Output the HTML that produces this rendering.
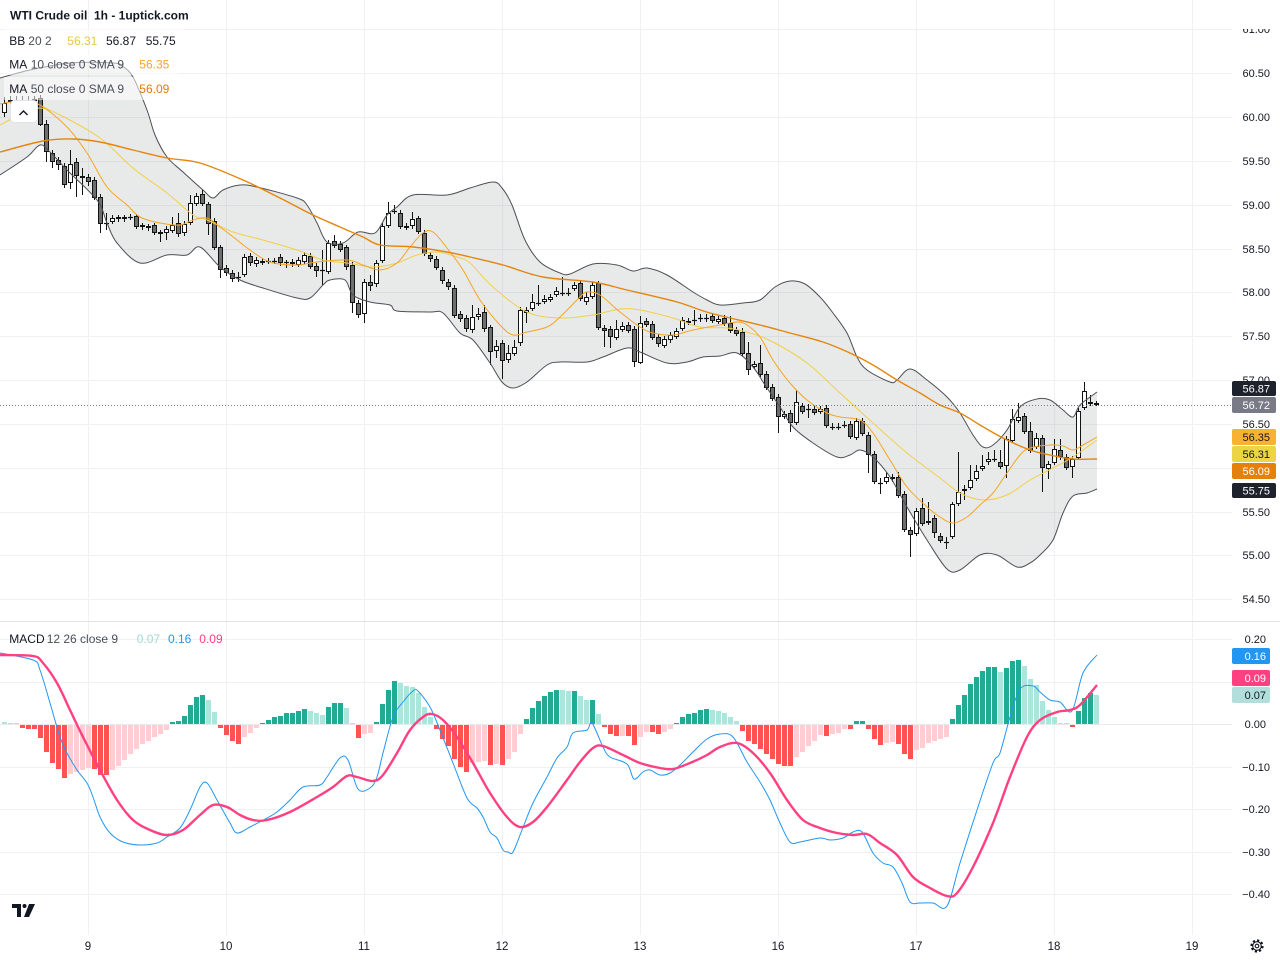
<!DOCTYPE html>
<html><head><meta charset="utf-8">
<style>
html,body{margin:0;padding:0;background:#fff;}
svg{display:block;font-family:"Liberation Sans",sans-serif;}
</style></head>
<body>
<svg id="s" width="1280" height="960" viewBox="0 0 1280 960" xmlns="http://www.w3.org/2000/svg">
<defs>
<clipPath id="cm"><rect x="0" y="0" width="1232" height="621"/></clipPath>
<clipPath id="cd"><rect x="0" y="622" width="1232" height="313"/></clipPath>
<clipPath id="ca"><rect x="1232" y="29" width="48" height="592"/></clipPath>
</defs>
<g id="grid" stroke="#eff1f4" stroke-width="1">
<line x1="0" x2="1232" y1="29.5" y2="29.5"/>
<line x1="0" x2="1232" y1="73.5" y2="73.5"/>
<line x1="0" x2="1232" y1="117.5" y2="117.5"/>
<line x1="0" x2="1232" y1="161.5" y2="161.5"/>
<line x1="0" x2="1232" y1="205.5" y2="205.5"/>
<line x1="0" x2="1232" y1="249.5" y2="249.5"/>
<line x1="0" x2="1232" y1="292.5" y2="292.5"/>
<line x1="0" x2="1232" y1="336.5" y2="336.5"/>
<line x1="0" x2="1232" y1="380.5" y2="380.5"/>
<line x1="0" x2="1232" y1="424.5" y2="424.5"/>
<line x1="0" x2="1232" y1="468.5" y2="468.5"/>
<line x1="0" x2="1232" y1="512.5" y2="512.5"/>
<line x1="0" x2="1232" y1="555.5" y2="555.5"/>
<line x1="0" x2="1232" y1="599.5" y2="599.5"/>
<line x1="0" x2="1232" y1="639.5" y2="639.5"/>
<line x1="0" x2="1232" y1="682.5" y2="682.5"/>
<line x1="0" x2="1232" y1="724.5" y2="724.5"/>
<line x1="0" x2="1232" y1="767.5" y2="767.5"/>
<line x1="0" x2="1232" y1="809.5" y2="809.5"/>
<line x1="0" x2="1232" y1="852.5" y2="852.5"/>
<line x1="0" x2="1232" y1="894.5" y2="894.5"/>
<line y1="0" y2="935" x1="88.5" x2="88.5"/>
<line y1="0" y2="935" x1="226.5" x2="226.5"/>
<line y1="0" y2="935" x1="364.5" x2="364.5"/>
<line y1="0" y2="935" x1="502.5" x2="502.5"/>
<line y1="0" y2="935" x1="640.5" x2="640.5"/>
<line y1="0" y2="935" x1="778.5" x2="778.5"/>
<line y1="0" y2="935" x1="916.5" x2="916.5"/>
<line y1="0" y2="935" x1="1054.5" x2="1054.5"/>
<line y1="0" y2="935" x1="1192.5" x2="1192.5"/>
</g>
<line x1="0" x2="1280" y1="621.5" y2="621.5" stroke="#dfe2e8" stroke-width="1"/>
<g clip-path="url(#cm)">
  <path id="bandfill" fill="rgba(125,132,132,0.18)" stroke="none"/>
  <g id="candles"></g>
  <path id="upper" fill="none" stroke="#4d4f55" stroke-width="1"/>
  <path id="lower" fill="none" stroke="#4d4f55" stroke-width="1"/>
  <path id="basis" fill="none" stroke="#f0d04a" stroke-width="1"/>
  <path id="ma10" fill="none" stroke="#f5a623" stroke-width="1"/>
  <path id="ma50" fill="none" stroke="#e5850c" stroke-width="1.4"/>
  <line x1="0" x2="1232" y1="405.5" y2="405.5" stroke="#787b86" stroke-width="1" stroke-dasharray="1 2"/>
</g>
<g clip-path="url(#cd)">
  <line x1="0" x2="1232" y1="724.5" y2="724.5" stroke="#e8eaee" stroke-width="1"/>
  <g id="hist"></g>
  <path id="macd" fill="none" stroke="#2196f3" stroke-width="1"/>
  <path id="sig" fill="none" stroke="#ff4081" stroke-width="2.4" stroke-linejoin="round"/>
</g>

<!-- legend -->
<rect x="4" y="29" width="180" height="22" fill="#fff" fill-opacity="0.5"/>
<rect x="4" y="53" width="174" height="22" fill="#fff" fill-opacity="0.5"/>
<rect x="4" y="77" width="174" height="23" fill="#fff" fill-opacity="0.55"/>
<text x="10" y="19.5" font-size="12" font-weight="bold" fill="#131722" xml:space="preserve">WTI Crude oil  1h - 1uptick.com</text>
<g font-size="12">
<text x="9.3" y="45" fill="#131722">BB</text>
<text x="28.3" y="45" fill="#4a4e59">20 2</text>
<text x="67.3" y="45" fill="#e9c743">56.31</text>
<text x="106" y="45" fill="#131722">56.87</text>
<text x="145.7" y="45" fill="#131722">55.75</text>
<text x="9.3" y="68.5" fill="#131722">MA</text>
<text x="30.7" y="68.5" fill="#4a4e59">10 close 0 SMA 9</text>
<text x="139.3" y="68.5" fill="#f5a623">56.35</text>
<text x="9.3" y="93" fill="#131722">MA</text>
<text x="30.7" y="93" fill="#4a4e59">50 close 0 SMA 9</text>
<text x="139.3" y="93" fill="#e07b00">56.09</text>
<text x="9.3" y="643" fill="#131722">MACD</text>
<text x="46.7" y="643" fill="#4a4e59">12 26 close 9</text>
<text x="136.7" y="643" fill="#a3d9d1">0.07</text>
<text x="168" y="643" fill="#2196f3">0.16</text>
<text x="199.3" y="643" fill="#ff4081">0.09</text>
</g>
<rect x="10.5" y="100.5" width="27" height="22" rx="4" fill="#fff" stroke="#e0e3eb"/>
<polyline points="19.5,115 23.5,111 27.5,115" fill="none" stroke="#131722" stroke-width="1.4"/>

<!-- price axis -->
<g font-size="11" fill="#131722" text-anchor="end" clip-path="url(#ca)">
<text x="1270" y="33">61.00</text>
<text x="1270" y="77">60.50</text>
<text x="1270" y="121">60.00</text>
<text x="1270" y="165">59.50</text>
<text x="1270" y="209">59.00</text>
<text x="1270" y="253">58.50</text>
<text x="1270" y="296">58.00</text>
<text x="1270" y="340">57.50</text>
<text x="1270" y="384">57.00</text>
<text x="1270" y="428">56.50</text>
<text x="1270" y="472">56.00</text>
<text x="1270" y="516">55.50</text>
<text x="1270" y="559">55.00</text>
<text x="1270" y="603">54.50</text>
</g>
<g font-size="11" text-anchor="end">
<rect x="1232" y="381" width="44" height="15" rx="2" fill="#1e222d"/>
<text x="1270" y="392.5" fill="#fff">56.87</text>
<rect x="1232" y="397" width="44" height="16" rx="2" fill="#787b86"/>
<text x="1270" y="409" fill="#fff">56.72</text>
<rect x="1232" y="429" width="44" height="16" rx="2" fill="#f8b232"/>
<text x="1270" y="441" fill="#131722">56.35</text>
<rect x="1232" y="446" width="44" height="16" rx="2" fill="#ecd545"/>
<text x="1270" y="458" fill="#131722">56.31</text>
<rect x="1232" y="463" width="44" height="16" rx="2" fill="#e5810a"/>
<text x="1270" y="475" fill="#fff">56.09</text>
<rect x="1232" y="483" width="44" height="15" rx="2" fill="#1e222d"/>
<text x="1270" y="494.5" fill="#fff">55.75</text>
</g>
<!-- macd axis -->
<g font-size="11" fill="#131722" text-anchor="end">
<text x="1266" y="643">0.20</text>
<text x="1266" y="686">0.10</text>
<text x="1266" y="728">0.00</text>
<text x="1270" y="771">−0.10</text>
<text x="1270" y="813">−0.20</text>
<text x="1270" y="856">−0.30</text>
<text x="1270" y="898">−0.40</text>
<rect x="1232" y="648" width="38" height="16" rx="2" fill="#2196f3"/>
<text x="1266" y="660" fill="#fff">0.16</text>
<rect x="1232" y="670" width="38" height="16" rx="2" fill="#ff4081"/>
<text x="1266" y="682" fill="#fff">0.09</text>
<rect x="1232" y="687" width="38" height="16" rx="2" fill="#b2dfdb"/>
<text x="1266" y="699" fill="#131722">0.07</text>
</g>
<!-- time axis -->
<g font-size="11.5" fill="#131722" text-anchor="middle">
<text x="88" y="950">9</text>
<text x="226" y="950">10</text>
<text x="364" y="950">11</text>
<text x="502" y="950">12</text>
<text x="640" y="950">13</text>
<text x="778" y="950">16</text>
<text x="916" y="950">17</text>
<text x="1054" y="950">18</text>
<text x="1192" y="950">19</text>
</g>
<!-- logo -->
<g fill="#131722">
<path d="M12 904 h9 v13 h-4 v-9 h-5 z"/>
<circle cx="24.5" cy="906" r="2"/>
<path d="M29 904 h6 l-6 13 h-5 z"/>
</g>
<!-- gear -->
<g fill="none" stroke="#131722">
<circle cx="1257" cy="946" r="5.5" stroke-width="2.2" stroke-dasharray="2.2 2.1"/>
<circle cx="1257" cy="946" r="4.3" stroke-width="1.1"/>
<circle cx="1257" cy="946" r="1.8" stroke-width="1.1"/>
</g>
</svg>
<script>
(function(){
var NS="http://www.w3.org/2000/svg";
function el(t,a,p){var e=document.createElementNS(NS,t);for(var k in a)e.setAttribute(k,a[k]);p.appendChild(e);return e;}
function pts(a){var r=[];for(var i=0;i<a.length;i+=2)r.push([a[i],a[i+1]]);return r;}
function seg(P){var d="";for(var i=0;i<P.length-1;i++){var p0=P[i-1]||P[i],p1=P[i],p2=P[i+1],p3=P[i+2]||p2;
var c1x=p1[0]+(p2[0]-p0[0])/6,c1y=p1[1]+(p2[1]-p0[1])/6,c2x=p2[0]-(p3[0]-p1[0])/6,c2y=p2[1]-(p3[1]-p1[1])/6;
d+=" C"+c1x.toFixed(1)+","+c1y.toFixed(1)+" "+c2x.toFixed(1)+","+c2y.toFixed(1)+" "+p2[0]+","+p2[1];}return d;}
function smooth(P){return "M"+P[0][0]+","+P[0][1]+seg(P);}
var U=pts([0,78,30,70,70,63,113,63,122,66,133,77,147,110,155,135,167,157,183,172,203,190,213,198,223,190,240,185,257,187,297,198,307,205,317,223,327,242,343,243,358,232,375,233,387,215,397,207,413,195,447,195,470,188,493,182,502,188,512,205,525,240,540,262,560,273,570,274,593,264,617,265,633,271,647,268,667,275,693,292,707,300,720,305,743,303,760,300,775,287,790,281,805,284,820,297,833,313,847,333,857,357,867,370,890,382,897,380,910,369,927,380,947,397,960,413,973,435,983,447,993,445,1007,430,1020,407,1037,399,1050,400,1063,410,1073,417,1080,405,1097,392]);
var L=pts([0,175,27,157,40,145,50,152,67,170,97,200,107,223,117,243,140,263,167,255,187,255,200,247,220,267,240,280,263,288,297,298,310,298,323,285,330,280,345,280,353,295,370,302,390,305,397,311,430,312,443,313,460,333,473,340,490,363,502,382,513,388,527,382,547,365,560,362,587,362,603,357,627,348,640,352,667,363,687,362,703,357,720,356,737,353,753,367,765,385,780,407,793,427,813,443,837,457,850,455,860,450,873,457,890,477,907,507,927,540,947,569,960,570,980,555,997,555,1017,567,1030,563,1040,555,1053,540,1063,513,1073,496,1087,493,1097,489]);
var B=pts([0,125,20,115,40,108,60,115,100,138,133,168,167,193,193,215,207,220,233,232,263,240,297,250,323,260,347,263,373,267,397,263,417,255,437,252,457,257,470,263,493,287,527,312,560,318,593,315,620,309,640,310,673,318,700,327,727,328,750,333,773,342,807,363,840,393,873,423,907,453,940,478,960,493,983,500,1007,495,1030,480,1053,468,1073,457,1097,440]);
var M10=pts([0,104,20,101,40,105,67,127,87,153,107,187,127,205,140,217,160,223,180,225,193,220,207,218,220,227,232,236,250,250,270,262,297,265,317,262,347,260,363,265,380,270,397,263,410,247,423,233,433,232,447,248,463,270,480,300,500,325,513,335,527,332,547,327,560,317,580,297,587,292,600,295,620,312,640,327,653,333,673,335,693,330,720,325,737,322,747,325,760,337,773,360,790,383,807,400,827,413,840,417,860,420,873,433,890,460,907,487,927,507,940,517,953,523,967,517,980,505,993,493,1007,473,1020,455,1030,448,1050,445,1063,446,1073,450,1083,445,1097,437]);
var M50=pts([0,152,43,141,73,139,100,142,133,150,167,158,200,163,243,180,280,198,313,215,340,227,363,237,380,245,413,247,447,252,470,257,503,265,543,277,593,282,627,290,677,302,710,313,760,325,790,333,823,342,850,353,873,365,897,380,920,393,940,405,960,413,980,425,1003,438,1030,450,1050,455,1073,459,1097,459]);
var MB=pts([0,653,33,660,40,670,50,703,60,737,67,753,77,770,87,783,93,797,100,817,110,833,123,842,140,845,157,843,167,837,180,828,190,810,200,787,207,783,217,800,230,823,237,833,250,827,267,818,277,812,290,800,303,787,320,785,327,777,340,758,348,760,358,789,370,788,377,777,383,753,393,717,403,702,413,691,418,691,430,707,440,730,453,763,467,798,477,808,483,817,490,832,497,838,503,850,508,852,513,852,522,830,533,803,547,777,557,758,567,747,573,733,587,730,592,723,603,747,610,757,627,764,634,779,643,772,650,770,660,775,670,773,680,765,693,752,707,739,720,734,733,737,747,762,760,782,770,800,780,823,790,842,800,842,820,838,830,840,843,838,853,832,862,832,873,853,883,863,893,867,902,883,910,902,920,903,933,903,947,906,960,863,977,810,993,763,1000,753,1010,717,1020,689,1033,686,1040,692,1050,700,1060,702,1072,711,1083,673,1097,655]);
var SG=pts([0,655,33,656,43,663,57,683,70,710,83,737,100,770,117,800,133,820,150,830,167,835,183,830,200,815,213,805,227,807,240,815,253,820,267,820,290,812,317,797,333,787,347,776,357,777,373,781,383,775,397,753,410,730,423,717,432,714,443,720,457,737,473,763,490,793,507,817,520,827,533,822,547,807,567,780,580,762,593,748,603,746,623,755,640,763,660,768,673,769,690,763,707,755,720,747,737,743,753,753,770,773,787,800,803,820,820,828,837,833,853,835,867,834,880,843,897,855,913,877,930,888,947,896,957,893,973,867,993,823,1010,777,1027,737,1040,720,1057,712,1070,710,1080,705,1097,685]);
document.getElementById("upper").setAttribute("d",smooth(U));
document.getElementById("lower").setAttribute("d",smooth(L));
var LR=L.slice().reverse();
document.getElementById("bandfill").setAttribute("d",smooth(U)+" L"+LR[0][0]+","+LR[0][1]+seg(LR)+" Z");
document.getElementById("basis").setAttribute("d",smooth(B));
document.getElementById("ma10").setAttribute("d",smooth(M10));
document.getElementById("ma50").setAttribute("d",smooth(M50));
document.getElementById("macd").setAttribute("d",smooth(MB));
document.getElementById("sig").setAttribute("d",smooth(SG));

var C=[[113,103,97,117],[101,100,96,104],[100,101,96,104],[101,100,96,103],[100,101,96,104],[101,99,96,103],
[98,125,95,126],[124,152,120,162],[153,162,150,168],[160,165,157,170],[166,185,163,188],[183,164,150,189],[162,176,158,197],[176,178,168,195],[177,182,174,186],[180,198,177,200],[197,224,194,233],[223,223,213,230],[222,218,215,224],[219,217,215,222],[217,219,215,222],[217,217,214,220],[216,227,214,229],[225,227,223,230],[228,226,224,231],[225,233,223,235],[232,234,230,242],[233,229,226,240],[231,225,217,233],[223,234,213,237],[233,224,221,236],[223,203,195,225],[204,196,193,206],[194,204,190,206],[204,224,202,235],[221,248,218,250],[247,270,245,278],[268,273,265,276],[273,279,270,282],[277,277,272,282],[275,257,254,277],[256,263,253,266],[264,260,257,267],[261,263,258,265],[261,261,258,264],[261,261,258,264],[257,263,254,266],[262,262,260,268],[264,262,259,267],[265,260,257,267],[262,255,252,264],[256,267,253,269],[266,271,263,277],[270,270,250,285],[272,243,240,274],[241,246,235,248],[244,250,241,252],[247,267,245,270],[265,303,262,313],[303,315,300,318],[314,282,279,323],[282,286,275,291],[284,263,260,287],[261,226,223,263],[226,213,202,228],[211,211,205,214],[213,227,210,229],[228,226,223,230],[226,219,212,229],[218,232,216,234],[233,254,230,256],[255,259,252,262],[259,268,256,270],[270,281,267,284],[282,287,279,290],[288,316,285,318],[314,319,311,322],[318,329,315,332],[330,317,305,333],[317,314,308,320],[312,329,305,332],[327,352,325,365],[351,346,340,358],[343,361,340,379],[360,353,345,363],[354,347,340,356],[343,310,307,346],[313,310,307,323],[309,302,294,311],[303,303,285,306],[302,299,295,304],[300,297,294,302],[295,291,287,297],[293,293,277,296],[293,293,288,296],[289,285,282,291],[283,299,280,301],[302,297,292,305],[297,285,282,299],[283,328,281,330],[328,331,325,347],[329,337,326,348],[338,329,320,340],[330,326,322,332],[325,331,322,333],[329,362,326,367],[363,323,316,364],[321,325,318,327],[324,338,321,340],[337,344,334,347],[346,339,336,348],[340,335,332,343],[337,331,328,339],[329,320,317,331],[323,321,318,325],[320,320,310,325],[318,318,314,322],[318,318,314,322],[316,321,313,323],[322,319,316,324],[318,324,315,326],[323,331,316,333],[330,334,327,336],[332,354,328,356],[353,370,342,375],[367,364,361,369],[363,375,345,377],[374,388,371,390],[387,399,384,401],[397,417,394,433],[417,414,411,419],[413,423,410,432],[423,402,390,425],[406,412,403,414],[409,409,404,418],[409,413,405,415],[412,409,406,414],[408,426,405,428],[427,427,423,430],[427,427,423,430],[425,425,421,428],[424,437,421,439],[438,421,418,440],[421,434,418,436],[435,455,432,473],[454,482,451,484],[483,483,478,494],[482,477,472,484],[479,477,474,482],[477,496,472,498],[494,530,491,532],[530,535,527,557],[534,511,508,536],[508,524,498,526],[523,521,502,525],[518,533,515,538],[536,541,533,543],[542,542,537,549],[537,504,502,539],[504,492,452,506],[489,491,485,500],[488,480,465,490],[479,471,465,481],[469,466,455,471],[462,459,452,465],[459,459,450,462],[462,467,450,469],[466,439,436,478],[441,419,409,443],[421,417,403,423],[416,432,413,434],[431,451,422,453],[447,438,433,449],[438,468,435,492],[469,464,461,479],[463,449,439,465],[450,457,439,460],[457,468,454,470],[467,459,456,478],[458,411,408,460],[408,391,382,410],[402,404,395,406],[403,405,401,406]];
var g=document.getElementById("candles");
var n=C.length;
for(var i=0;i<n;i++){
  var x=1096-6*(n-1-i);
  var o=C[i][0],c=C[i][1],h=C[i][2],l=C[i][3];
  el("line",{x1:x+0.5,x2:x+0.5,y1:h,y2:l,stroke:"#131313","stroke-width":1},g);
  if(Math.abs(o-c)<1){
    el("line",{x1:x-2,x2:x+3,y1:o+0.5,y2:o+0.5,stroke:"#131313","stroke-width":1.2},g);
  }else{
    var t=Math.min(o,c),b=Math.max(o,c);
    el("rect",{x:x-1.5,y:t+0.5,width:4,height:Math.max(1,b-t-1),fill:(c>o?"#6e6e6e":"#ffffff"),stroke:"#131313","stroke-width":1},g);
  }
}
var H="g2 g1 g1 R3 R4 R4 R13 R27 R38 R44 R53 r49 r47 r45 r43 R44 R50 R50 r45 r41 r35 r29 r24 r19 r16 r12 r9 r5 G2 G3 G8 G19 G27 G29 g24 g12 R3 R10 R16 R19 r12 r8 r3 G1 G4 G7 G8 G11 G11 G13 G15 g13 g11 g9 G17 G21 G21 g16 g1 R13 r9 r8 G2 G20 G34 G43 g41 g38 g37 g31 g17 g7 R4 R14 R21 R34 R42 R47 r38 r37 r36 R40 r39 R40 r34 r27 r9 G5 G16 G23 G28 G32 G34 g34 g33 G33 g28 g24 G24 g10 R2 R9 R11 r11 R11 R20 r12 r7 R7 R9 r7 r4 G1 G7 G10 G11 G14 G15 g14 g13 g11 g7 g3 R6 R16 R19 R24 R29 R34 R39 R41 R41 r32 r27 r21 r16 r10 R11 r9 r8 r4 R4 G3 G3 R4 R14 R20 r18 r17 R19 R29 R34 r25 r23 r18 r16 r14 r12 G5 G19 G29 G40 G47 G53 G57 G57 g52 G56 G63 G64 g58 g45 g39 g23 g14 g7 g1 g1 R2 G13 G26 G31 g29".split(" ");
var col={G:"#22ab94",g:"#ace5dc",R:"#ff5252",r:"#ffcdd2"};
var hg=document.getElementById("hist");
var m=H.length;
for(var j=0;j<m;j++){
  var k=H[j][0],v=parseFloat(H[j].slice(1));
  var x2=1096-6*(m-1-j);
  if(k=="G"||k=="g") el("rect",{x:x2-2,y:724-v,width:5,height:v,fill:col[k]},hg);
  else el("rect",{x:x2-2,y:725,width:5,height:v,fill:col[k]},hg);
}
})();
</script>
</body></html>
